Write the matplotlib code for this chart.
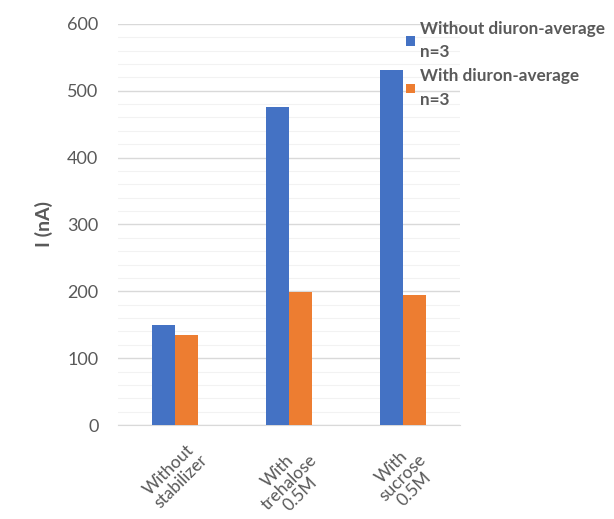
import matplotlib.pyplot as plt
import numpy as np

plt.rcParams['font.family'] = ['Lato', 'DejaVu Sans']

categories = ["Without\nstabilizer", "With\ntrehalose\n0.5M", "With\nsucrose\n0.5M"]
without_diuron = [150, 476, 531]
with_diuron = [134, 199, 194]
series_labels = ["Without diuron-average\nn=3", "With diuron-average\nn=3"]

fig = plt.figure(figsize=(6.14, 5.19), dpi=100)
ax = fig.add_axes([0.192, 0.181, 0.557, 0.773])

x = np.arange(len(categories))
w = 0.2
ax.bar(x - w / 2, without_diuron, w, color="#4472C4", label=series_labels[0], zorder=3)
ax.bar(x + w / 2, with_diuron, w, color="#ED7D31", label=series_labels[1], zorder=3)

ax.set_xlim(-0.5, 2.5)
ax.set_ylim(0, 600)
ax.set_yticks(np.arange(0, 601, 100))
ax.set_yticks(np.arange(0, 601, 20), minor=True)
ax.grid(axis="y", which="major", color="#d9d9d9", linewidth=1.0, zorder=0)
ax.grid(axis="y", which="minor", color="#f2f2f2", linewidth=0.8, zorder=0)
for s in ["top", "right", "left"]:
    ax.spines[s].set_visible(False)
ax.spines["bottom"].set_color("#d9d9d9")
ax.tick_params(axis="both", which="both", length=0)
ax.tick_params(axis="y", labelsize=13, labelcolor="#595959", pad=14)

ax.set_xticks(x)
ax.set_xticklabels(categories, rotation=45, ha="center", va="top",
                   multialignment="center", fontsize=12.5, color="#595959",
                   linespacing=1.0)
ax.tick_params(axis="x", pad=11)

ax.set_ylabel("I (nA)", fontsize=14, fontweight="bold", color="#595959", labelpad=10)

leg = fig.legend(loc="upper left", bbox_to_anchor=(0.637, 0.99), frameon=False,
                 prop={"weight": "bold", "size": 12.3}, labelcolor="#595959",
                 handlelength=0.5, handleheight=0.5, handletextpad=0.3,
                 labelspacing=0.45)
for t in leg.get_texts():
    t.set_linespacing(1.6)

fig.savefig("out.png", dpi=100)
